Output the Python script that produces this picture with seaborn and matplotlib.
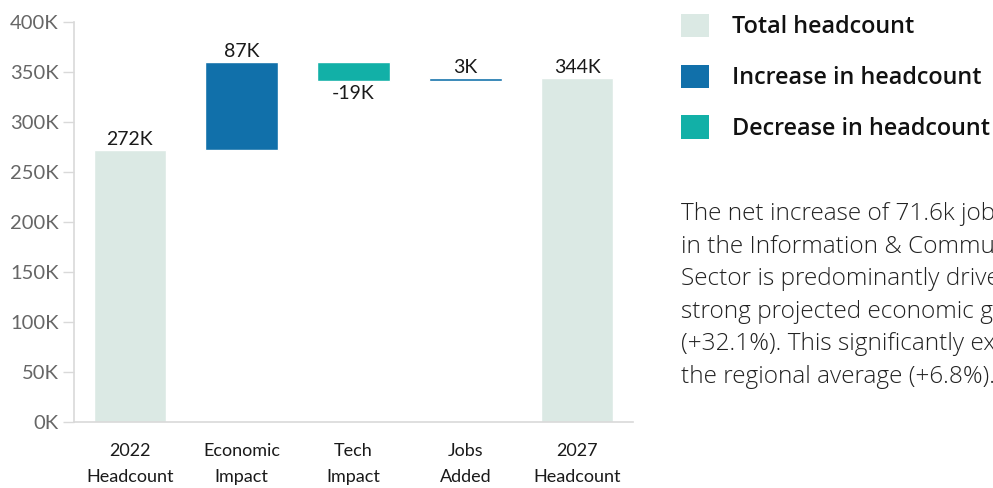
import matplotlib
matplotlib.use("Agg")
import matplotlib.pyplot as plt
from matplotlib.patches import Patch
from matplotlib.ticker import FuncFormatter, MultipleLocator
import seaborn as sns

# Waterfall components, in thousands of employees
categories = ["2022\nHeadcount", "Economic\nImpact", "Tech\nImpact", "Jobs\nAdded", "2027\nHeadcount"]
kinds = ["total", "increase", "decrease", "increase", "total"]
start_total = 272.1
changes = [87.4, -18.9, 3.1]

palette = {"total": "#dbe9e4", "increase": "#1170aa", "decrease": "#12b0a7"}
legend_labels = {"total": "Total headcount", "increase": "Increase in headcount",
                 "decrease": "Decrease in headcount"}

summary = [
    "The net increase of 71.6k jobs",
    "in the Information & Communications",
    "Sector is predominantly driven by",
    "strong projected economic growth",
    "(+32.1%). This significantly exceeds",
    "the regional average (+6.8%).",
]

# Bar floors and signed values for each step
end_total = start_total + sum(changes)
values = [start_total] + changes + [end_total]
bottoms, heights = [], []
running = 0.0
for kind, v in zip(kinds, values):
    if kind == "total":
        bottoms.append(0.0)
        heights.append(v)
        running = v
    else:
        bottoms.append(running if v >= 0 else running + v)
        heights.append(abs(v))
        running += v

sns.set_theme(style="white")
plt.rcParams["font.family"] = ["Lato", "DejaVu Sans"]

fig = plt.figure(figsize=(9.93, 4.88), dpi=100)
ax = fig.add_axes([0.0745, 0.135, 0.563, 0.820])

for cat, kind, b, h in zip(categories, kinds, bottoms, heights):
    sns.barplot(x=[cat], y=[h], order=categories, bottom=b, color=palette[kind],
                saturation=1, width=0.65, errorbar=None, ax=ax)

# Value labels
for i, (kind, v, b, h) in enumerate(zip(kinds, values, bottoms, heights)):
    label = f"{v:.0f}K"
    if kind == "decrease":
        ax.text(i, b - 4, label, ha="center", va="top", fontsize=14, color="#1a1a1a")
    else:
        ax.text(i, b + h + 2, label, ha="center", va="bottom", fontsize=14, color="#1a1a1a")

ax.set_xlim(-0.5, 4.5)
ax.set_ylim(0, 400)
ax.yaxis.set_major_locator(MultipleLocator(50))
ax.yaxis.set_major_formatter(FuncFormatter(lambda y, _: f"{y:.0f}K"))
ax.set_xlabel("")
ax.set_ylabel("")

for side in ("top", "right"):
    ax.spines[side].set_visible(False)
for side in ("left", "bottom"):
    ax.spines[side].set_color("#d9d9d9")
    ax.spines[side].set_linewidth(1.2)

ax.tick_params(axis="y", left=True, length=8, width=1, color="#d9d9d9",
               labelsize=14.5, labelcolor="#666666", pad=3)
ax.tick_params(axis="x", bottom=False, labelsize=13, labelcolor="#1a1a1a", pad=9)
for t in ax.get_xticklabels():
    t.set_linespacing(1.75)

# Legend on the right
handles = [Patch(facecolor=palette[k], edgecolor="none", label=legend_labels[k])
           for k in ("total", "increase", "decrease")]
leg = fig.legend(handles=handles, loc="upper left", bbox_to_anchor=(0.6858, 0.972),
                 frameon=False, handlelength=1.18, handleheight=1.18, handletextpad=1.0,
                 labelspacing=1.08, borderpad=0, borderaxespad=0,
                 prop={"family": "Open Sans", "weight": "semibold", "size": 16.8})
for t in leg.get_texts():
    t.set_color("#111111")

fig.text(0.6858, 1 - 202 / 488, "\n".join(summary), ha="left", va="top",
         fontsize=17.6, family="Open Sans", fontweight="light", color="#222222",
         linespacing=1.475)

fig.savefig("out.png", dpi=100)
